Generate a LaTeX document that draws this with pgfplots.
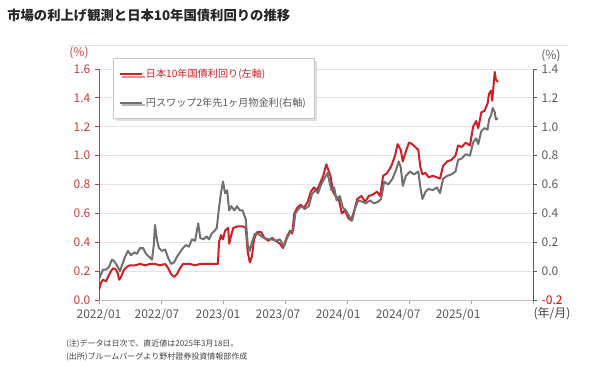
\documentclass[border=0pt]{standalone}
\usepackage{fontspec}
\setmainfont{Noto Sans CJK JP}
\usepackage{pgfplots}
\usepackage{pgfplotstable}
\pgfplotsset{compat=1.18}
\usetikzlibrary{shadows}
\definecolor{jred}{RGB}{204,32,38}
\definecolor{lred}{RGB}{200,60,60}
\definecolor{jgrey}{RGB}{112,112,112}
\definecolor{tgrey}{RGB}{89,89,89}
\definecolor{gridc}{RGB}{228,228,228}

\pgfplotstableread{
m v
0.0 0.07
0.19 0.12
0.39 0.14
0.68 0.13
0.87 0.16
1.16 0.20
1.36 0.22
1.65 0.21
1.84 0.18
1.94 0.14
2.13 0.16
2.42 0.21
2.71 0.23
3.0 0.24
3.5 0.24
4.0 0.25
4.45 0.24
4.94 0.25
5.4 0.25
5.9 0.24
6.4 0.25
6.7 0.22
6.97 0.18
7.26 0.16
7.55 0.18
7.84 0.22
8.13 0.25
8.8 0.25
9.3 0.24
9.8 0.25
10.3 0.25
10.75 0.25
11.2 0.25
11.5 0.25
11.62 0.40
11.8 0.45
12.0 0.42
12.2 0.48
12.5 0.50
12.6 0.39
12.8 0.45
13.0 0.50
13.45 0.51
13.9 0.51
14.2 0.50
14.4 0.33
14.6 0.26
14.8 0.30
15.0 0.42
15.3 0.47
15.7 0.47
16.0 0.43
16.4 0.41
16.75 0.43
17.1 0.41
17.5 0.39
17.8 0.36
18.2 0.44
18.5 0.48
18.7 0.46
18.9 0.60
19.2 0.64
19.5 0.66
19.85 0.64
20.2 0.68
20.5 0.75
20.8 0.78
21.1 0.76
21.4 0.81
21.7 0.86
22.0 0.94
22.2 0.90
22.4 0.86
22.65 0.75
22.9 0.72
23.2 0.70
23.5 0.60
23.8 0.62
24.1 0.57
24.4 0.55
24.7 0.62
25.0 0.70
25.4 0.72
25.75 0.68
26.1 0.72
26.5 0.73
26.9 0.75
27.2 0.72
27.5 0.86
27.9 0.88
28.3 0.93
28.65 1.00
28.9 1.08
29.2 1.04
29.4 0.96
29.7 1.03
30.0 1.09
30.3 1.08
30.6 1.06
30.9 1.04
31.1 0.92
31.3 0.87
31.6 0.88
31.9 0.85
32.3 0.86
32.7 0.85
33.0 0.84
33.3 0.93
33.7 0.96
34.1 0.97
34.5 1.00
34.75 1.07
35.1 1.06
35.5 1.09
35.9 1.07
36.2 1.20
36.5 1.24
36.7 1.19
37.0 1.30
37.3 1.31
37.6 1.36
37.75 1.43
37.95 1.45
38.05 1.38
38.2 1.50
38.3 1.58
38.4 1.53
38.6 1.51
}\jgb

\pgfplotstableread{
m v
0.0 -0.06
0.19 -0.02
0.39 0.01
0.68 0.01
0.97 0.03
1.26 0.08
1.45 0.07
1.74 0.04
2.03 0.00
2.32 0.06
2.52 0.10
2.81 0.14
3.1 0.11
3.4 0.13
3.68 0.12
3.97 0.16
4.26 0.16
4.55 0.12
4.84 0.10
5.13 0.08
5.3 0.18
5.42 0.32
5.6 0.22
5.8 0.16
6.1 0.14
6.4 0.15
6.7 0.09
6.97 0.05
7.26 0.06
7.55 0.10
7.84 0.13
8.13 0.16
8.4 0.18
8.7 0.17
9.0 0.22
9.3 0.21
9.6 0.33
9.8 0.23
10.1 0.22
10.4 0.24
10.65 0.22
10.9 0.26
11.2 0.28
11.4 0.30
11.6 0.43
11.8 0.54
12.0 0.62
12.2 0.54
12.4 0.56
12.6 0.42
12.8 0.45
13.1 0.42
13.35 0.45
13.65 0.42
13.9 0.42
14.2 0.36
14.4 0.18
14.6 0.14
14.8 0.20
15.1 0.26
15.4 0.26
15.7 0.24
16.0 0.23
16.4 0.22
16.75 0.22
17.1 0.21
17.5 0.22
17.9 0.17
18.2 0.23
18.5 0.27
18.8 0.28
19.0 0.40
19.3 0.43
19.6 0.45
19.9 0.43
20.3 0.45
20.6 0.53
20.9 0.56
21.2 0.54
21.5 0.60
21.8 0.64
22.1 0.68
22.3 0.62
22.5 0.56
22.75 0.58
23.0 0.49
23.3 0.52
23.6 0.44
23.9 0.42
24.2 0.38
24.5 0.35
24.8 0.44
25.1 0.49
25.5 0.48
25.85 0.47
26.2 0.49
26.6 0.47
27.0 0.48
27.3 0.50
27.6 0.62
28.0 0.60
28.4 0.64
28.75 0.70
29.0 0.76
29.2 0.72
29.4 0.59
29.7 0.66
30.1 0.69
30.5 0.67
30.9 0.69
31.1 0.58
31.3 0.50
31.6 0.55
31.9 0.57
32.3 0.56
32.7 0.58
33.0 0.54
33.3 0.64
33.7 0.66
34.1 0.67
34.5 0.69
34.75 0.77
35.1 0.78
35.5 0.81
35.9 0.80
36.2 0.89
36.5 0.92
36.7 0.88
37.0 0.97
37.3 0.99
37.6 0.98
37.75 1.05
37.95 1.08
38.1 1.13
38.3 1.10
38.4 1.05
38.6 1.06
}\swap

\begin{document}
\begin{tikzpicture}
\path[use as bounding box] (0,0) rectangle (450pt,273.75pt);
\node[anchor=west,font=\fontsize{10}{12}\selectfont\bfseries,text=black!85,inner sep=0pt] at (5.25pt,262.5pt) {市場の利上げ観測と日本10年国債利回りの推移};
\draw[gridc, line width=0.75pt] (51pt,239.25pt) -- (426pt,239.25pt);

\begin{axis}[
  at={(74.25pt,48.75pt)}, anchor=south west,
  scale only axis, width=325.5pt, height=173.25pt,
  xmin=0, xmax=42, ymin=0, ymax=1.6,
  axis x line*=bottom, axis y line*=left,
  axis line style={-},
  x axis line style={black!25, line width=0.75pt},
  y axis line style={lred, line width=0.75pt},
  tick align=outside, major tick length=3pt, minor tick length=3pt,
  ytick={0,0.2,0.4,0.6,0.8,1.0,1.2,1.4,1.6},
  yticklabels={0.0,0.2,0.4,0.6,0.8,1.0,1.2,1.4,1.6},
  ytick style={lred, line width=0.6pt},
  yticklabel style={text=lred, font=\fontsize{9}{10}\selectfont},
  ymajorgrids, grid style={gridc, line width=0.75pt},
  xtick={0,5.61,11.52,17.33,23.14,28.95,34.75},
  xticklabels={2022/01,2022/07,2023/01,2023/07,2024/01,2024/07,2025/01},
  major x tick style={draw=none},
  minor xtick={0,6,12,18,24,30,36,42},
  minor x tick style={black!35, line width=0.6pt},
  xticklabel style={text=tgrey, font=\fontsize{9}{10}\selectfont},
  legend cell align=left,
  legend image code/.code={\draw[#1] (0pt,0pt) -- (17pt,0pt);},
  legend style={at={(rel axis cs:0.032,1.048)}, anchor=north west,
    draw=black!22, fill=white, line width=0.6pt,
    drop shadow={shadow xshift=2pt, shadow yshift=-2pt, fill=black!25},
    font=\fontsize{7.6}{10}\selectfont, row sep=9.5pt,
    inner xsep=4pt, inner ysep=6pt,
    /tikz/every even column/.append style={column sep=1pt}},
]
\addplot[color=jred, line width=1.5pt, line join=round] table[x=m,y=v] {\jgb};
\addlegendentry{\textcolor{jred}{日本10年国債利回り(左軸)}}
\addlegendimage{color=jgrey, line width=1.5pt}
\addlegendentry{\textcolor{tgrey}{円スワップ2年先1ヶ月物金利(右軸)}}
\end{axis}

\begin{axis}[
  at={(74.25pt,48.75pt)}, anchor=south west,
  scale only axis, width=325.5pt, height=173.25pt,
  xmin=0, xmax=42, ymin=-0.2, ymax=1.4,
  axis x line=none, axis y line*=right,
  axis line style={-},
  y axis line style={tgrey, line width=0.75pt},
  tick align=outside, major tick length=3pt,
  ytick={-0.2,0,0.2,0.4,0.6,0.8,1.0,1.2,1.4},
  yticklabels={\textcolor{red!85!black}{-0.2},0.0,0.2,0.4,0.6,0.8,1.0,1.2,1.4},
  ytick style={tgrey, line width=0.6pt},
  yticklabel style={text=tgrey, font=\fontsize{9}{10}\selectfont},
]
\addplot[color=jgrey, line width=1.5pt, line join=round] table[x=m,y=v] {\swap};
\end{axis}

\node[font=\fontsize{9}{10}\selectfont, text=lred] at (59.25pt,234pt) {(\%)};
\node[font=\fontsize{9}{10}\selectfont, text=tgrey] at (413.25pt,231.75pt) {(\%)};
\node[font=\fontsize{9}{10}\selectfont, text=black!75] at (414pt,38.25pt) {(年/月)};
\node[anchor=west, inner sep=0pt, font=\fontsize{6}{7}\selectfont, text=black!75] at (49.5pt,15.75pt) {(注)データは日次で、直近値は2025年3月18日。};
\node[anchor=west, inner sep=0pt, font=\fontsize{6}{7}\selectfont, text=black!75] at (49.5pt,6pt) {(出所)ブルームバーグより野村證券投資情報部作成};
\end{tikzpicture}
\end{document}
